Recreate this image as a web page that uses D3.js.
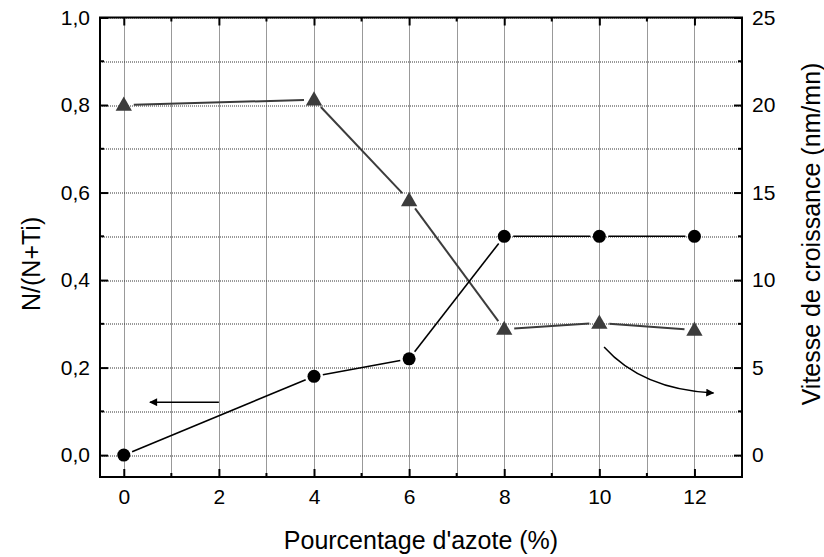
<!DOCTYPE html>
<html>
<head>
<meta charset="utf-8">
<script src="https://cdn.jsdelivr.net/npm/d3@7"></script>
<style>
  body { margin: 0; background: #fff; }
  text { font-family: Arial, "Liberation Sans", sans-serif; fill: #000; }
</style>
</head>
<body>
<div id="chart"></div>
<script>
// data
const azote = [0, 4, 6, 8, 10, 12];
const ratioN = [0, 0.18, 0.22, 0.5, 0.5, 0.5];            // left axis, circles
const vitesse = [20, 20.3, 14.55, 7.2, 7.55, 7.15];       // right axis, triangles

const xTicks = [0, 2, 4, 6, 8, 10, 12];
const yLeftTicks = [0, 0.2, 0.4, 0.6, 0.8, 1.0];
const yRightTicks = [0, 5, 10, 15, 20, 25];

// annotation arrows (in data coordinates, left axis)
const arrowLeft = [[2, 0.121], [0.55, 0.121]];
const arrowRight = [[10.1, 0.247], [10.9, 0.15], [12.4, 0.142]];

const W = 824, H = 557;
const margin = { top: 17.5, right: 82, bottom: 80, left: 100 };
const width = W - margin.left - margin.right;
const height = H - margin.top - margin.bottom;

const svg = d3.select('#chart').append('svg')
  .attr('width', W)
  .attr('height', H);

svg.append('rect').attr('width', W).attr('height', H).attr('fill', '#fff');

const g = svg.append('g')
  .attr('transform', `translate(${margin.left}, ${margin.top})`);

const x = d3.scaleLinear().domain([-0.5, 13]).range([0, width]);
const yL = d3.scaleLinear().domain([-0.05, 1.0]).range([height, 0]);
const yR = d3.scaleLinear().domain([-1.25, 25]).range([height, 0]);

const comma = d => d3.format('.1f')(d).replace('.', ',');

// grid
const gridX = d3.range(0, 13.01, 1);
const gridY = d3.range(0, 1.001, 0.1);
g.append('g').selectAll('line')
  .data(gridX)
  .enter().append('line')
  .attr('x1', d => Math.round(x(d)) + 0.5).attr('x2', d => Math.round(x(d)) + 0.5)
  .attr('y1', 0).attr('y2', height)
  .attr('stroke', '#333').attr('stroke-width', 1)
  .attr('stroke-dasharray', '1,1');
g.append('g').selectAll('line')
  .data(gridY)
  .enter().append('line')
  .attr('y1', d => Math.round(yL(d)) + 0.5).attr('y2', d => Math.round(yL(d)) + 0.5)
  .attr('x1', 0).attr('x2', width)
  .attr('stroke', '#333').attr('stroke-width', 1)
  .attr('stroke-dasharray', '1,1');

// axes
const tickFont = '21px';
const xAxisB = d3.axisBottom(x).tickValues(xTicks).tickSizeInner(-8).tickSizeOuter(0).tickPadding(12);
const xAxisT = d3.axisTop(x).tickValues(xTicks).tickSizeInner(-8).tickSizeOuter(0).tickFormat('');
const yAxisL = d3.axisLeft(yL).tickValues(yLeftTicks).tickSizeInner(-8).tickSizeOuter(0).tickPadding(10).tickFormat(comma);
const yAxisR = d3.axisRight(yR).tickValues(yRightTicks).tickSizeInner(-8).tickSizeOuter(0).tickPadding(10);

function styleAxis(sel) {
  sel.select('.domain').remove();
  sel.selectAll('line').attr('stroke', '#000').attr('stroke-width', 2);
  sel.selectAll('text').style('font-size', tickFont)
    .style('font-family', 'Arial, "Liberation Sans", sans-serif');
}

g.append('g').attr('transform', `translate(0, ${height})`).call(xAxisB).call(styleAxis);
g.append('g').call(xAxisT).call(styleAxis);
g.append('g').call(yAxisL).call(styleAxis);
g.append('g').attr('transform', `translate(${width}, 0)`).call(yAxisR).call(styleAxis);

// minor ticks
const minorX = [1, 3, 5, 7, 9, 11, 13];
const minorYL = [0.1, 0.3, 0.5, 0.7, 0.9];
const minorYR = [2.5, 7.5, 12.5, 17.5, 22.5];
const minor = g.append('g').attr('stroke', '#000').attr('stroke-width', 2);
minorX.forEach(d => {
  minor.append('line').attr('x1', x(d)).attr('x2', x(d)).attr('y1', height).attr('y2', height - 4);
  minor.append('line').attr('x1', x(d)).attr('x2', x(d)).attr('y1', 0).attr('y2', 4);
});
minorYL.forEach(d => {
  minor.append('line').attr('x1', 0).attr('x2', 4).attr('y1', yL(d)).attr('y2', yL(d));
});
minorYR.forEach(d => {
  minor.append('line').attr('x1', width).attr('x2', width - 4).attr('y1', yR(d)).attr('y2', yR(d));
});

// frame
g.append('rect')
  .attr('width', width).attr('height', height)
  .attr('fill', 'none').attr('stroke', '#000').attr('stroke-width', 2);

// connecting segments with gaps near markers (Origin style)
function gappedSegments(pts, gap) {
  const segs = [];
  for (let i = 0; i < pts.length - 1; i++) {
    const [x1, y1] = pts[i];
    const [x2, y2] = pts[i + 1];
    const len = Math.hypot(x2 - x1, y2 - y1);
    const ux = (x2 - x1) / len, uy = (y2 - y1) / len;
    segs.push([x1 + ux * gap, y1 + uy * gap, x2 - ux * gap, y2 - uy * gap]);
  }
  return segs;
}

const circlePts = azote.map((d, i) => [x(d), yL(ratioN[i])]);
const triPts = azote.map((d, i) => [x(d), yR(vitesse[i])]);

g.append('g').selectAll('line')
  .data(gappedSegments(triPts, 10))
  .enter().append('line')
  .attr('x1', d => d[0]).attr('y1', d => d[1])
  .attr('x2', d => d[2]).attr('y2', d => d[3])
  .attr('stroke', '#3c3c3c').attr('stroke-width', 2);

g.append('g').selectAll('line')
  .data(gappedSegments(circlePts, 9))
  .enter().append('line')
  .attr('x1', d => d[0]).attr('y1', d => d[1])
  .attr('x2', d => d[2]).attr('y2', d => d[3])
  .attr('stroke', '#000').attr('stroke-width', 1.6);

g.append('g').selectAll('path')
  .data(triPts)
  .enter().append('path')
  .attr('d', d3.symbol().type(d3.symbolTriangle).size(115))
  .attr('transform', d => `translate(${d[0]}, ${d[1] + 1})`)
  .attr('fill', '#3c3c3c');

g.append('g').selectAll('circle')
  .data(circlePts)
  .enter().append('circle')
  .attr('cx', d => d[0]).attr('cy', d => d[1])
  .attr('r', 6.5)
  .attr('fill', '#000');

// arrows
svg.append('defs').append('marker')
  .attr('id', 'head')
  .attr('viewBox', '0 0 10 10')
  .attr('refX', 9).attr('refY', 5)
  .attr('markerUnits', 'userSpaceOnUse')
  .attr('markerWidth', 15).attr('markerHeight', 8)
  .attr('orient', 'auto')
  .append('path')
  .attr('d', 'M0,0 L10,5 L0,10 Z')
  .attr('fill', '#000');

g.append('line')
  .attr('x1', x(arrowLeft[0][0])).attr('y1', yL(arrowLeft[0][1]))
  .attr('x2', x(arrowLeft[1][0])).attr('y2', yL(arrowLeft[1][1]))
  .attr('stroke', '#000').attr('stroke-width', 1.5)
  .attr('marker-end', 'url(#head)');

const a = arrowRight.map(d => [x(d[0]), yL(d[1])]);
g.append('path')
  .attr('d', `M${a[0][0]},${a[0][1]} Q${a[1][0]},${a[1][1]} ${a[2][0]},${a[2][1]}`)
  .attr('fill', 'none')
  .attr('stroke', '#000').attr('stroke-width', 1.5)
  .attr('marker-end', 'url(#head)');

// axis titles
svg.append('text')
  .attr('x', 421)
  .attr('y', 549)
  .attr('text-anchor', 'middle')
  .style('font-size', '25px')
  .text("Pourcentage d'azote (%)");

svg.append('text')
  .attr('transform', `translate(40, ${margin.top + yL(0.437)}) rotate(-90)`)
  .attr('text-anchor', 'middle')
  .style('font-size', '25px')
  .text('N/(N+Ti)');

svg.append('text')
  .attr('transform', `translate(820, 234) rotate(-90)`)
  .attr('text-anchor', 'middle')
  .style('font-size', '25px')
  .text('Vitesse de croissance (nm/mn)');
</script>
</body>
</html>
